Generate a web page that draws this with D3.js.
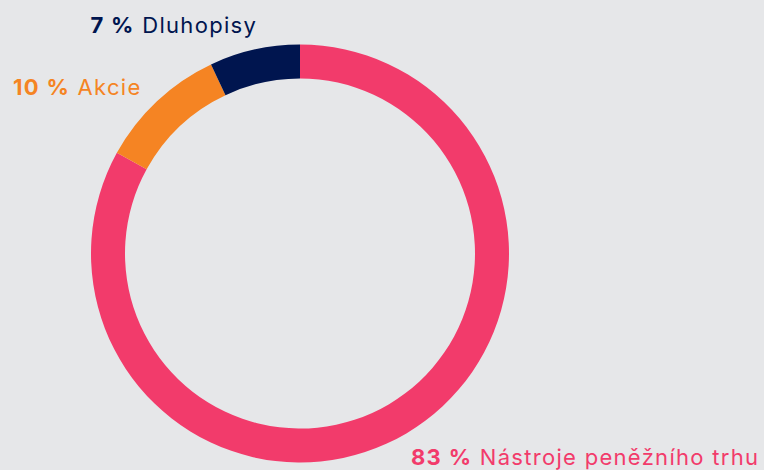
<!DOCTYPE html>
<html>
<head>
<meta charset="utf-8">
<script src="https://cdn.jsdelivr.net/npm/d3@7"></script>
<style>
html, body { margin: 0; padding: 0; background: #e6e7e9; }
svg { display: block; }
text { font-family: Inter, "Open Sans", sans-serif; }
</style>
</head>
<body>
<svg id="chart" width="764" height="470"></svg>
<script>
const categories = ["Nástroje peněžního trhu", "Akcie", "Dluhopisy"];
const values = [83, 10, 7];
const colors = ["#f23b6b", "#f58423", "#00154f"];
const labelText = ["83 %", "10 %", "7 %"];

const W = 764, H = 470;
const cx = 300, cy = 253.5, outerR = 209, innerR = 175;

const svg = d3.select("#chart");
svg.append("rect").attr("width", W).attr("height", H).attr("fill", "#e6e7e9");

const pie = d3.pie().sort(null).value(d => d.value);
const arcs = pie(categories.map((c, i) => ({ cat: c, value: values[i], i })));
const arc = d3.arc().innerRadius(innerR).outerRadius(outerR);

const g = svg.append("g").attr("transform", `translate(${cx},${cy})`);
g.selectAll("path").data(arcs).enter().append("path")
  .attr("d", arc)
  .attr("fill", d => colors[d.data.i]);

// label positions (text start x, baseline y)
const labelPos = [[411, 464.5], [13, 94.5], [90.5, 32.5]];
const labels = svg.selectAll("text.lbl").data(arcs).enter().append("text")
  .attr("class", "lbl")
  .attr("x", d => labelPos[d.data.i][0])
  .attr("y", d => labelPos[d.data.i][1])
  .attr("fill", d => colors[d.data.i])
  .style("font-size", "22px")
  .style("letter-spacing", "1.3px");
labels.append("tspan").attr("font-weight", 700).text(d => labelText[d.data.i]);
labels.append("tspan").attr("font-weight", 400).text(d => " " + d.data.cat);
</script>
</body>
</html>
